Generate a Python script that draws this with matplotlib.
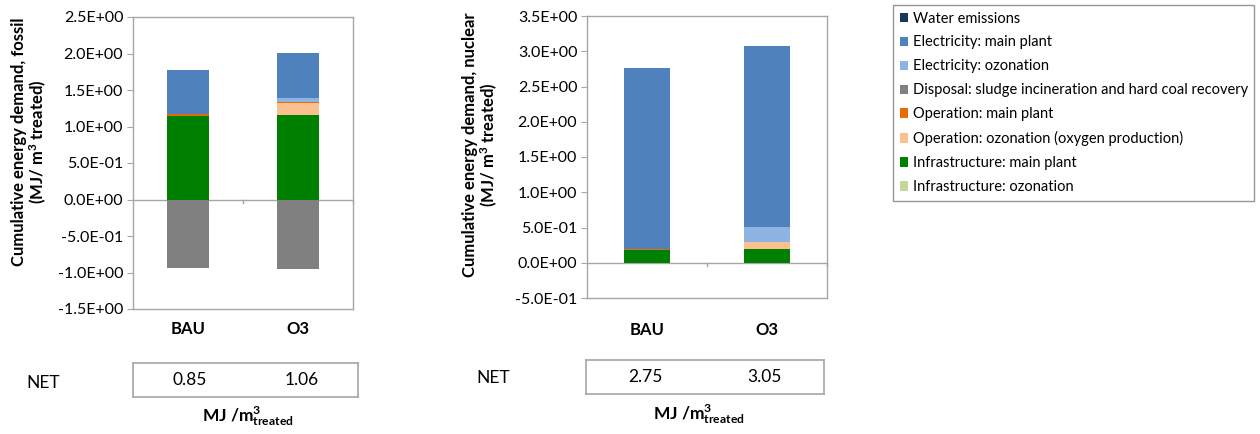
import matplotlib
matplotlib.use("Agg")
import matplotlib.pyplot as plt
from matplotlib.patches import Patch
from matplotlib.ticker import FuncFormatter, MultipleLocator

plt.rcParams["font.family"] = ["Lato", "DejaVu Sans"]
plt.rcParams["mathtext.fontset"] = "custom"
plt.rcParams["mathtext.rm"] = "Lato"
plt.rcParams["mathtext.bf"] = "Lato:bold"

categories = ["BAU", "O3"]

# legend order (top to bottom), as in the source chart
components = [
    "Water emissions",
    "Electricity: main plant",
    "Electricity: ozonation",
    "Disposal: sludge incineration and hard coal recovery",
    "Operation: main plant",
    "Operation: ozonation (oxygen production)",
    "Infrastructure: main plant",
    "Infrastructure: ozonation",
]
colors = ["#17375E", "#4F81BD", "#8DB4E2", "#808080",
          "#E46C0A", "#FAC090", "#008000", "#C3D69B"]

# MJ / m3 treated, per component, [BAU, O3]
fossil = {
    "Water emissions": [0.0, 0.0],
    "Electricity: main plant": [0.61, 0.62],
    "Electricity: ozonation": [0.0, 0.05],
    "Disposal: sludge incineration and hard coal recovery": [-0.94, -0.95],
    "Operation: main plant": [0.03, 0.02],
    "Operation: ozonation (oxygen production)": [0.0, 0.16],
    "Infrastructure: main plant": [1.14, 1.16],
    "Infrastructure: ozonation": [0.0, 0.0],
}
nuclear = {
    "Water emissions": [0.0, 0.0],
    "Electricity: main plant": [2.56, 2.56],
    "Electricity: ozonation": [0.0, 0.21],
    "Disposal: sludge incineration and hard coal recovery": [0.0, 0.0],
    "Operation: main plant": [0.015, 0.01],
    "Operation: ozonation (oxygen production)": [0.0, 0.09],
    "Infrastructure: main plant": [0.185, 0.2],
    "Infrastructure: ozonation": [0.0, 0.0],
}
fossil_net = [0.85, 1.06]
nuclear_net = [2.75, 3.05]

GREY = "#A6A6A6"
W, H = 1260, 434


def sci(v, _pos):
    return f"{v:.1E}"


def stacked(ax, data, ylim, ylabel, label_pad, label_xy):
    xs = list(range(len(categories)))
    pos = [0.0] * len(xs)
    neg = [0.0] * len(xs)
    # Excel stacks in reverse legend order
    for name, col in reversed(list(zip(components, colors))):
        vals = data[name]
        bottoms = [neg[i] if v < 0 else pos[i] for i, v in enumerate(vals)]
        ax.bar(xs, vals, width=0.39, bottom=bottoms, color=col, linewidth=0)
        for i, v in enumerate(vals):
            if v < 0:
                neg[i] += v
            else:
                pos[i] += v
    ax.set_xlim(-0.5, len(xs) - 0.5)
    ax.set_ylim(*ylim)
    ax.yaxis.set_major_locator(MultipleLocator(0.5))
    ax.yaxis.set_major_formatter(FuncFormatter(sci))
    ax.tick_params(axis="y", length=4, color=GREY, labelsize=11.5, pad=3)
    ax.set_xticks(xs)
    ax.set_xticklabels(categories, fontweight="bold", fontsize=12)
    ax.tick_params(axis="x", length=0, pad=label_pad)
    for s in ax.spines.values():
        s.set_color(GREY)
        s.set_linewidth(1.0)
    ax.axhline(0, color=GREY, linewidth=1.0, zorder=0)
    # small category-boundary ticks on the zero line
    span = (ylim[1] - ylim[0]) * 0.012
    for b in [i + 0.5 for i in xs]:
        ax.plot([b, b], [0, -span], color=GREY, linewidth=1.0, clip_on=False)
    ax.set_ylabel(ylabel, fontweight="bold", fontsize=12, linespacing=1.05)
    ax.yaxis.set_label_coords(*label_xy)


def net_box(fig, box_px, values, net_px, unit_px):
    x0, y0, x1, y1 = box_px
    bx = fig.add_axes([x0 / W, 1 - y1 / H, (x1 - x0) / W, (y1 - y0) / H])
    bx.set_xticks([])
    bx.set_yticks([])
    for s in bx.spines.values():
        s.set_color(GREY)
        s.set_linewidth(1.2)
    for i, v in enumerate(values):
        bx.text((i + 0.5) / len(values), 0.5, f"{v:.2f}", ha="center",
                va="center", fontsize=12.5)
    fig.text(net_px[0] / W, 1 - net_px[1] / H, "NET", ha="left", va="center",
             fontsize=12.5)
    fig.text(unit_px[0] / W, 1 - unit_px[1] / H, r"MJ /m$\mathbf{^{3}_{treated}}$",
             ha="left", va="center", fontsize=12.5, fontweight="bold")


fig = plt.figure(figsize=(W / 100, H / 100), dpi=100)

ax1 = fig.add_axes([133 / W, 1 - 309 / H, 220 / W, 292 / H])
stacked(ax1, fossil, (-1.5, 2.5),
        "Cumulative energy demand, fossil\n(MJ/ m$\\mathbf{^{3}}$ treated)", 9,
        (-0.383, 0.572))

ax2 = fig.add_axes([587 / W, 1 - 298 / H, 240 / W, 282 / H])
stacked(ax2, nuclear, (-0.5, 3.5),
        "Cumulative energy demand, nuclear\n(MJ/ m$\\mathbf{^{3}}$ treated)", 17,
        (-0.363, 0.543))

net_box(fig, (133, 363, 358, 397), fossil_net, (26, 383), (202, 416))
net_box(fig, (586, 360, 824, 394), nuclear_net, (476, 378), (653, 414))

handles = [Patch(facecolor=c, edgecolor="none") for c in colors]
leg = fig.legend(handles, components, loc="upper left",
                 bbox_to_anchor=(893 / W, 1 - 5 / H), fontsize=10.5,
                 frameon=True, fancybox=False, handlelength=0.6,
                 handleheight=0.6, handletextpad=0.3, labelspacing=0.68,
                 borderpad=0.45, borderaxespad=0)
leg.get_frame().set_edgecolor("#7F7F7F")
leg.get_frame().set_linewidth(1.0)

fig.savefig("out.png", dpi=100)
